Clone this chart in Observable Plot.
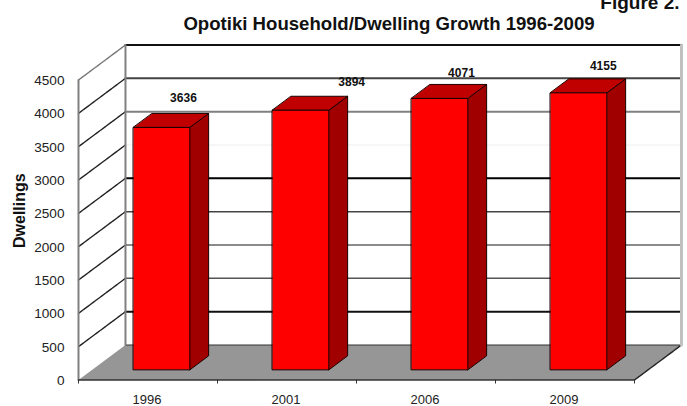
<!DOCTYPE html>
<html>
<head>
<meta charset="utf-8">
<style>
  html, body { margin: 0; padding: 0; background: #fff; }
  svg { display: block; }
</style>
<script src="https://cdn.jsdelivr.net/npm/d3@7"></script>
<script src="https://cdn.jsdelivr.net/npm/@observablehq/plot@0.6"></script>
</head>
<body>
<script>
// Census years and dwelling counts
const years = ["1996", "2001", "2006", "2009"];
const dwellings = [3636, 3894, 4071, 4155];
const valueTicks = [0, 500, 1000, 1500, 2000, 2500, 3000, 3500, 4000, 4500];

// Oblique projection of the chart box: one unit of depth shifts a point
// this far along the category and value axes.
const DEPTH_X = 0.338;
const DEPTH_Y = 525;
const at = (u, d, v) => ({x: u + d * DEPTH_X, y: v + d * DEPTH_Y});

// Bar solid inside the box
const BAR_HALF = 0.203;
const BAR_NEAR = 0.29;
const BAR_FAR = 0.69;

// Thickness and shade of the rules, which alternate across the back wall
const ruleShade = {0: "#333", 500: "#111", 1000: "#555", 1500: "#666", 2000: "#444", 2500: "#000", 3000: "#eee", 3500: "#808080", 4000: "#444", 4500: "#111"};
const ruleWidth = {0: 1.2, 500: 2, 1000: 1.5, 1500: 1.5, 2000: 1.5, 2500: 2, 3000: 1, 3500: 2, 4000: 2, 4500: 2};
const labelOffset = [[0.157, -318], [0.367, -335], [0.157, -375], [0.177, -355]];

const poly = (points, options) => Plot.line(points, {x: "x", y: "y", curve: "linear-closed", ...options});
const seg = (a, b, options) => Plot.line([a, b], {x: "x", y: "y", ...options});

const wallLines = valueTicks.slice(1).map(v =>
  seg(at(0, 0, v), at(0, 1, v), {stroke: v === 4500 ? "#777" : "#222", strokeWidth: 1.4, strokeDasharray: "6 1"}));

const floor = poly([at(0, 0, 0), at(0, 1, 0), at(4, 1, 0), at(4, 0, 0)], {fill: "#969696", stroke: "none"});
const floorEdge = seg(at(4, 0, 0), at(4, 1, 0), {stroke: "#222", strokeWidth: 1.4, strokeDasharray: "6 1"});

const rules = valueTicks.map(v =>
  seg(at(0, 1, v), at(4, 1, v), {stroke: ruleShade[v], strokeWidth: ruleWidth[v]}));

const walls = [
  seg(at(0, 0, 0), at(0, 0, 4500), {stroke: "#808080", strokeWidth: 2}),
  seg(at(0, 1, 0), at(0, 1, 4500), {stroke: "#808080", strokeWidth: 2}),
  seg(at(4, 1, 0), at(4, 1, 4500), {stroke: "#c0c0c0", strokeWidth: 3})
];

const bars = dwellings.flatMap((v, i) => {
  const c = i + 0.5, l = c - BAR_HALF, r = c + BAR_HALF;
  const edge = {stroke: "#1a0000", strokeWidth: 1};
  return [
    poly([at(r, BAR_NEAR, 0), at(r, BAR_FAR, 0), at(r, BAR_FAR, v), at(r, BAR_NEAR, v)], {fill: "#a00000", ...edge}),
    poly([at(l, BAR_NEAR, v), at(r, BAR_NEAR, v), at(r, BAR_FAR, v), at(l, BAR_FAR, v)], {fill: "#c00000", ...edge}),
    poly([at(l, BAR_NEAR, 0), at(r, BAR_NEAR, 0), at(r, BAR_NEAR, v), at(l, BAR_NEAR, v)], {fill: "#ff0000", ...edge})
  ];
});

const valueLabels = Plot.text(dwellings.map((v, i) => ({v, i})), {
  x: d => d.i + 0.5 + labelOffset[d.i][0] + BAR_NEAR * DEPTH_X,
  y: d => d.v + DEPTH_Y + labelOffset[d.i][1] + 380,
  text: d => String(d.v),
  fontSize: 12,
  fontWeight: "bold",
  fill: "#111"
});

const chart = Plot.plot({
  width: 687,
  height: 406,
  marginLeft: 78,
  marginRight: 53,
  marginTop: 79.5,
  marginBottom: 26.5,
  style: {fontFamily: "'Liberation Sans', Arial, sans-serif", background: "#fff", overflow: "visible"},
  x: {domain: [0, 4]},
  y: {domain: [0, 4500]},
  marks: [
    ...wallLines,
    floor,
    floorEdge,
    ...rules,
    ...walls,
    ...bars,
    valueLabels,
    Plot.axisY({ticks: valueTicks, tickSize: 0, tickPadding: 14, tickFormat: "d", fontSize: 13.6, label: null, fill: "#222", dy: 0.5}),
    Plot.axisX({ticks: [0, 1, 2, 3, 4], tickSize: 4, tickFormat: () => "", stroke: "#333", label: null}),
    seg(at(0, 0, 0), at(4, 0, 0), {stroke: "#333", strokeWidth: 1.4}),
    Plot.axisX({ticks: years.map((_, i) => i + 0.5), tickSize: 0, tickPadding: 15, tickFormat: d => years[d - 0.5], fontSize: 13, label: null, fill: "#222", dx: -1}),
    Plot.text(["Dwellings"], {frameAnchor: "left", dx: -59, dy: 18, rotate: -90, fontSize: 16, fontWeight: "bold", fill: "#111"}),
    Plot.text(["Opotiki Household/Dwelling Growth 1996-2009"], {frameAnchor: "middle", dy: -206, dx: 32.5, fontSize: 18.6, fontWeight: "bold", fill: "#111"}),
    Plot.text(["Figure 2."], {frameAnchor: "top-right", dx: 45, dy: -85, textAnchor: "end", fontSize: 19, fontWeight: "bold", fill: "#111"})
  ]
});
document.body.appendChild(chart);
</script>
</body>
</html>
